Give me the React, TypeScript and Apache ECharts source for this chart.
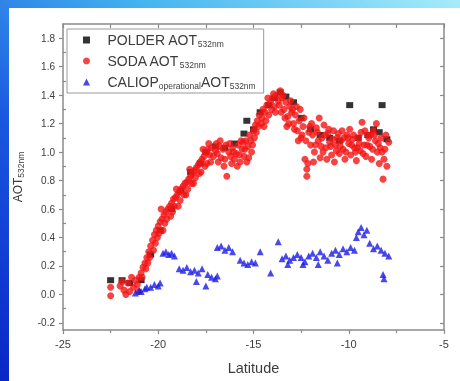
import React, { useEffect, useRef } from "react";
import * as echarts from "echarts";

// Latitude / AOT pairs
const polderData: number[][] = [
  [-22.5, 0.10], [-21.9, 0.10], [-21.5, 0.08], [-20.9, 0.10], [-20.4, 0.28], [-19.9, 0.45],
  [-19.3, 0.60], [-18.8, 0.73], [-18.3, 0.86], [-17.8, 0.92], [-17.5, 1.00], [-17.0, 1.04],
  [-16.5, 1.03], [-16.0, 1.06], [-15.5, 1.13], [-15.35, 1.22], [-15.0, 1.16], [-14.65, 1.28],
  [-14.2, 1.33], [-13.9, 1.38], [-13.6, 1.42], [-13.3, 1.39], [-12.9, 1.35], [-12.5, 1.24],
  [-12.0, 1.16], [-11.5, 1.12], [-11.0, 1.10], [-10.5, 1.08], [-9.95, 1.33], [-9.5, 1.10],
  [-9.0, 1.12], [-8.7, 1.16], [-8.25, 1.33], [-8.0, 1.09], [-8.4, 1.14],
];

const sodaData: number[][] = [
  [-22.5, -0.01], [-22.5, 0.05], [-22.0, 0.06], [-21.8, 0.03], [-21.6, 0.08], [-21.5, 0.02],
  [-21.3, 0.05], [-21.2, 0.10], [-21.1, 0.07], [-21.0, 0.12], [-20.9, 0.15], [-20.8, 0.19],
  [-20.7, 0.22], [-20.6, 0.26], [-20.5, 0.30], [-20.4, 0.34], [-20.3, 0.38], [-20.2, 0.42],
  [-20.1, 0.45], [-20.0, 0.48], [-19.9, 0.51], [-19.8, 0.53], [-19.7, 0.56], [-19.6, 0.58],
  [-19.5, 0.60], [-19.4, 0.62], [-19.3, 0.64], [-19.2, 0.67], [-19.1, 0.68], [-19.0, 0.70],
  [-18.9, 0.72], [-18.8, 0.74], [-18.7, 0.76], [-18.6, 0.78], [-18.5, 0.79], [-18.4, 0.81],
  [-18.3, 0.83], [-18.2, 0.85], [-18.1, 0.87], [-18.0, 0.89], [-17.9, 0.91], [-17.8, 0.93],
  [-17.7, 0.95], [-17.6, 0.97], [-17.5, 1.00], [-17.4, 1.02], [-17.3, 0.98], [-17.2, 1.03],
  [-17.1, 0.97], [-17.0, 1.01], [-16.9, 0.99], [-16.8, 1.04], [-16.7, 0.96], [-16.6, 1.02],
  [-16.5, 0.95], [-16.4, 0.83], [-16.3, 1.00], [-16.2, 0.97], [-16.1, 1.03], [-16.0, 0.95],
  [-15.9, 0.99], [-15.8, 1.05], [-15.7, 0.93], [-15.6, 1.02], [-15.5, 0.97], [-15.4, 1.08],
  [-15.3, 1.04], [-15.2, 1.12], [-15.1, 1.00], [-15.0, 1.15], [-14.9, 1.19], [-14.8, 1.22],
  [-14.7, 1.26], [-14.6, 1.20], [-14.5, 1.30], [-14.4, 1.28], [-14.3, 1.33], [-14.2, 1.26],
  [-14.1, 1.35], [-14.0, 1.38], [-13.9, 1.32], [-13.8, 1.40], [-13.7, 1.36], [-13.6, 1.43],
  [-13.5, 1.38], [-13.4, 1.30], [-13.3, 1.35], [-13.2, 1.25], [-13.1, 1.32], [-13.0, 1.28],
  [-12.9, 1.20], [-12.8, 1.26], [-12.7, 1.15], [-12.6, 1.22], [-12.5, 1.10], [-12.4, 1.18],
  [-12.3, 0.95], [-12.2, 0.88], [-12.2, 0.83], [-12.1, 1.14], [-12.0, 1.05], [-11.9, 1.12],
  [-11.8, 1.00], [-11.7, 1.17], [-11.6, 1.08], [-11.5, 0.96], [-11.4, 1.10], [-11.3, 1.19],
  [-11.2, 1.03], [-11.1, 1.13], [-11.0, 1.07], [-10.9, 0.98], [-10.8, 1.15], [-10.7, 1.05],
  [-10.6, 1.10], [-10.5, 0.99], [-10.4, 1.08], [-10.3, 1.02], [-10.2, 0.95], [-10.1, 1.12],
  [-10.0, 1.06], [-9.9, 0.98], [-9.8, 1.09], [-9.7, 1.03], [-9.6, 0.94], [-9.5, 1.10],
  [-9.4, 1.01], [-9.3, 1.21], [-9.2, 1.05], [-9.1, 0.97], [-9.0, 1.12], [-8.9, 1.04],
  [-8.8, 0.95], [-8.7, 1.15], [-8.6, 1.08], [-8.5, 1.00], [-8.4, 0.92], [-8.3, 1.10],
  [-8.2, 0.81], [-8.1, 1.02], [-8.0, 0.90], [-7.9, 1.07],
  [-20.55, 0.22], [-20.15, 0.36], [-19.75, 0.45], [-19.35, 0.55], [-18.95, 0.62], [-18.55, 0.70],
  [-18.15, 0.78], [-17.75, 0.86], [-17.45, 0.92], [-19.85, 0.60], [-19.05, 0.74], [-18.35, 0.88],
  [-17.65, 1.02], [-17.35, 1.06], [-16.95, 1.06], [-16.45, 1.05], [-16.15, 0.92], [-15.85, 0.90],
  [-15.55, 1.07], [-15.25, 0.96], [-13.25, 1.18], [-12.75, 1.32], [-12.35, 1.24], [-11.95, 1.20],
  [-11.55, 1.24], [-11.15, 0.95], [-10.75, 0.93], [-10.35, 1.15], [-9.95, 1.16], [-9.55, 1.03],
  [-9.15, 1.15], [-8.75, 1.02], [-8.35, 1.03], [-8.55, 1.20], [-8.85, 1.12], [-12.15, 0.92],
  [-11.85, 0.93],
  [-20.85, 0.12], [-20.65, 0.18], [-20.45, 0.26], [-20.25, 0.31], [-20.05, 0.40], [-19.95, 0.43],
  [-19.65, 0.50], [-19.55, 0.53], [-19.25, 0.58], [-19.15, 0.62], [-18.85, 0.66], [-18.65, 0.70],
  [-18.45, 0.74], [-18.25, 0.78], [-18.05, 0.82], [-17.85, 0.85], [-17.55, 0.90], [-17.25, 0.93],
  [-21.7, 0.00], [-21.4, 0.12], [-21.9, 0.09], [-21.05, 0.02],
  [-16.85, 0.93], [-16.75, 1.08], [-16.55, 0.90], [-16.25, 1.06], [-16.05, 1.00], [-15.75, 0.98],
  [-15.65, 1.08], [-15.45, 1.02], [-15.35, 0.93], [-15.15, 1.08], [-15.05, 1.05], [-14.95, 1.10],
  [-14.85, 1.14], [-14.75, 1.18], [-14.55, 1.24], [-14.45, 1.18], [-14.35, 1.22], [-14.25, 1.38],
  [-14.05, 1.30], [-13.95, 1.41], [-13.85, 1.28], [-13.65, 1.33], [-13.55, 1.28], [-13.45, 1.40],
  [-13.35, 1.24], [-13.15, 1.20], [-13.05, 1.36], [-12.95, 1.30], [-12.85, 1.16], [-12.65, 1.08],
  [-12.55, 1.30], [-12.45, 1.12], [-12.25, 1.08], [-12.05, 1.18], [-11.75, 1.05], [-11.65, 1.14],
  [-11.45, 1.04], [-11.35, 1.00], [-11.25, 1.12], [-11.05, 1.16], [-10.95, 1.04], [-10.85, 1.09],
  [-10.65, 1.01], [-10.55, 1.13], [-10.45, 1.04], [-10.25, 1.10], [-10.15, 1.00], [-10.05, 1.10],
  [-9.85, 1.05], [-9.75, 1.12], [-9.65, 1.00], [-9.45, 1.06], [-9.35, 1.14], [-9.25, 0.99],
  [-9.05, 1.05], [-8.95, 1.10], [-8.65, 1.12], [-8.45, 1.06], [-8.25, 1.00], [-8.05, 1.12],
  [-8.15, 0.95],
];

const caliopData: number[][] = [
  [-21.2, 0.01], [-21.0, 0.03], [-20.9, 0.02], [-20.7, 0.04], [-20.6, 0.05], [-20.4, 0.05],
  [-20.2, 0.07], [-20.0, 0.06], [-19.9, 0.08],
  [-19.75, 0.29], [-19.6, 0.30], [-19.45, 0.28], [-19.3, 0.29], [-19.15, 0.27],
  [-18.9, 0.18], [-18.7, 0.17], [-18.5, 0.19], [-18.3, 0.16], [-18.1, 0.17], [-18.0, 0.09],
  [-17.9, 0.15], [-17.7, 0.18], [-17.5, 0.06], [-17.4, 0.14], [-17.2, 0.12], [-17.0, 0.11],
  [-16.9, 0.13],
  [-16.9, 0.33], [-16.7, 0.34], [-16.5, 0.31], [-16.3, 0.33], [-16.1, 0.30],
  [-15.7, 0.24], [-15.5, 0.22], [-15.3, 0.21], [-15.1, 0.23], [-14.9, 0.22], [-14.65, 0.30],
  [-14.1, 0.15], [-13.7, 0.37],
  [-13.5, 0.25], [-13.3, 0.27], [-13.1, 0.24], [-12.9, 0.26], [-12.7, 0.28], [-12.5, 0.26],
  [-12.3, 0.23], [-12.1, 0.27], [-11.9, 0.29], [-11.7, 0.26], [-11.5, 0.30], [-11.3, 0.27],
  [-11.1, 0.24], [-10.9, 0.29], [-10.7, 0.31], [-10.5, 0.28], [-10.3, 0.32], [-10.1, 0.30],
  [-9.9, 0.33], [-9.7, 0.31], [-9.6, 0.40], [-9.5, 0.44], [-9.35, 0.47], [-9.2, 0.42],
  [-9.05, 0.45], [-8.9, 0.36], [-8.7, 0.32], [-8.5, 0.34], [-8.3, 0.31], [-8.1, 0.29],
  [-7.9, 0.27], [-8.2, 0.14], [-8.15, 0.11],
  [-13.2, 0.21], [-12.4, 0.21], [-11.6, 0.21], [-10.6, 0.22],
];

const yTickValues = [-0.2, 0, 0.2, 0.4, 0.6, 0.8, 1.0, 1.2, 1.4, 1.6, 1.8];
const yMinorValues = [-0.1, 0.1, 0.3, 0.5, 0.7, 0.9, 1.1, 1.3, 1.5, 1.7];

const seriesNames = ["POLDER", "SODA", "CALIOP"];
const legendLabels: Record<string, string> = {
  POLDER: "{a|POLDER AOT}{s|532nm}",
  SODA: "{a|SODA AOT}{s|532nm}",
  CALIOP: "{a|CALIOP}{s|operational}{a|AOT}{s|532nm}",
};
const legendIcons: Record<string, string> = {
  POLDER: "path://M0,0L7,0L7,7L0,7Z",
  SODA: "path://M3.5,0A3.5,3.5,0,1,1,3.49,0Z",
  CALIOP: "path://M3.5,0L7,7L0,7Z",
};

const FONT = "'Liberation Sans', Arial, sans-serif";
const AXIS = "#8a8a8a";
const TXT = "#3c3c3c";

export default function App() {
  const ref = useRef<HTMLDivElement>(null);
  useEffect(() => {
    if (!ref.current) return;
    const chart = echarts.init(ref.current, null, { renderer: "svg" });
    const yRange = { min: -0.25, max: 1.9 };
    const xRange = { min: -25, max: -5 };
    chart.setOption({
      animation: false,
      textStyle: { fontFamily: FONT },
      graphic: [
        {
          type: "rect",
          z: -10,
          shape: { x: 0, y: 0, width: 460, height: 381 },
          style: {
            fill: new echarts.graphic.LinearGradient(1, 0, 0, 1, [
              { offset: 0, color: "#a6ecfb" },
              { offset: 0.35, color: "#45b4ef" },
              { offset: 0.65, color: "#1a58e0" },
              { offset: 1, color: "#0826c6" },
            ]),
          },
        },
        {
          type: "rect",
          z: -9,
          shape: { x: 9, y: 8, width: 451, height: 373 },
          style: { fill: "#ffffff" },
        },
      ],
      grid: { left: 63, right: 16, top: 24, bottom: 51 },
      legend: {
        orient: "vertical",
        left: 67,
        top: 29,
        padding: [4, 8, 3, 16],
        itemGap: 6,
        itemWidth: 32,
        itemHeight: 7,
        symbolKeepAspect: true,
        borderColor: "#9a9a9a",
        borderWidth: 1,
        backgroundColor: "#fff",
        data: seriesNames.map((n) => ({ name: n, icon: legendIcons[n] })),
        formatter: (name: string) => legendLabels[name],
        textStyle: {
          color: TXT,
          rich: {
            a: { fontSize: 14, lineHeight: 16, color: TXT, fontFamily: FONT },
            s: { fontSize: 8.5, lineHeight: 16, color: TXT, fontFamily: FONT, verticalAlign: "bottom" },
          },
        },
      },
      xAxis: [
        {
          type: "value",
          ...xRange,
          interval: 5,
          position: "bottom",
          name: "Latitude",
          nameLocation: "middle",
          nameGap: 30,
          nameTextStyle: { fontSize: 14.5, color: TXT, fontFamily: FONT },
          axisLine: { onZero: false, lineStyle: { color: AXIS, width: 1.5 } },
          axisTick: { show: true, inside: false, length: 4, lineStyle: { color: AXIS, width: 1.2 } },
          minorTick: { show: true, splitNumber: 2, length: 3, lineStyle: { color: AXIS, width: 1.2 } },
          axisLabel: { fontSize: 11, color: TXT, margin: 8, fontFamily: FONT },
          splitLine: { show: false },
        },
        {
          type: "value",
          ...xRange,
          interval: 2.5,
          position: "top",
          axisLine: { onZero: false, lineStyle: { color: AXIS, width: 1.5 } },
          axisTick: { show: true, inside: true, length: 4, lineStyle: { color: AXIS, width: 1.2 } },
          axisLabel: { show: false },
          splitLine: { show: false },
        },
      ],
      yAxis: [
        {
          type: "value",
          ...yRange,
          position: "left",
          name: "{a|AOT}{s|532nm}",
          nameLocation: "middle",
          nameRotate: 90,
          nameGap: 38,
          nameTextStyle: {
            rich: {
              a: { fontSize: 12, lineHeight: 15, color: TXT, fontFamily: FONT },
              s: { fontSize: 8.5, lineHeight: 15, color: TXT, fontFamily: FONT, verticalAlign: "bottom" },
            },
          },
          axisLine: { onZero: false, lineStyle: { color: AXIS, width: 1.5 } },
          axisTick: { show: true, inside: false, length: 4, customValues: yTickValues, lineStyle: { color: AXIS, width: 1.2 } },
          axisLabel: {
            customValues: yTickValues,
            fontSize: 10,
            color: TXT,
            margin: 8,
            fontFamily: FONT,
            formatter: (v: number) => v.toFixed(1),
          },
          splitLine: { show: false },
        },
        {
          type: "value",
          ...yRange,
          position: "right",
          axisLine: { onZero: false, lineStyle: { color: AXIS, width: 1.5 } },
          axisTick: { show: true, inside: true, length: 4, customValues: yTickValues, lineStyle: { color: AXIS, width: 1.2 } },
          axisLabel: { show: false, customValues: yTickValues },
          splitLine: { show: false },
        },
        {
          type: "value",
          ...yRange,
          position: "left",
          offset: 0,
          axisLine: { show: false },
          axisTick: { show: true, inside: true, length: 3, customValues: yMinorValues, lineStyle: { color: AXIS, width: 1.2 } },
          axisLabel: { show: false, customValues: yMinorValues },
          splitLine: { show: false },
        },
      ],
      series: [
        {
          name: "POLDER",
          type: "scatter",
          symbol: "rect",
          symbolSize: [7, 6],
          itemStyle: { color: "#000000" },
          data: polderData,
        },
        {
          name: "SODA",
          type: "scatter",
          symbol: "circle",
          symbolSize: 7,
          itemStyle: { color: "#f41414" },
          data: sodaData,
        },
        {
          name: "CALIOP",
          type: "scatter",
          symbol: "triangle",
          symbolSize: 7,
          itemStyle: { color: "#1a1ae6" },
          data: caliopData,
        },
      ],
    });
    return () => chart.dispose();
  }, []);
  return (
    <div
      ref={ref}
      style={{ position: "fixed", left: 0, top: 0, width: 460, height: 381 }}
    />
  );
}
